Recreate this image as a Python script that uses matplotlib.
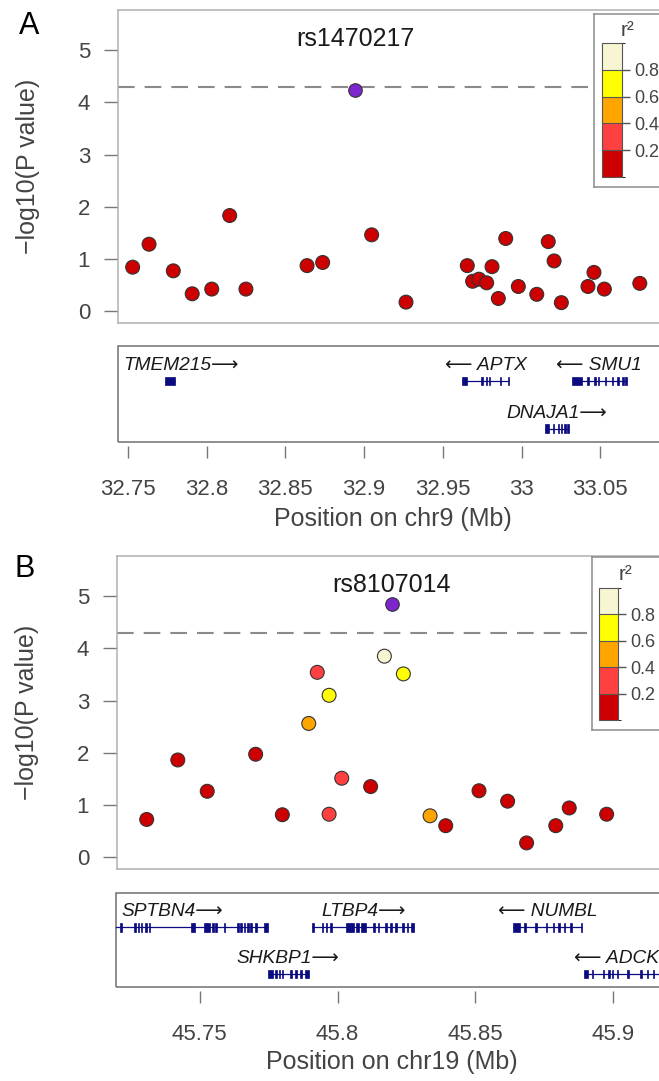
import matplotlib
matplotlib.use("Agg")
import matplotlib.pyplot as plt
from matplotlib.colors import ListedColormap, BoundaryNorm
from matplotlib.cm import ScalarMappable
from matplotlib.patches import Rectangle

plt.rcParams["font.family"] = ["Liberation Sans", "DejaVu Sans"]

W, H = 659, 1081

# ── r2 colour scale ──────────────────────────────────────────────────────────
R2_BOUNDS = [0, 0.2, 0.4, 0.6, 0.8, 1.0]
R2_COLORS = ["#CC0000", "#FF4040", "#FFA500", "#FFFF00", "#F8F6D2"]
R2_TICKS = [0.2, 0.4, 0.6, 0.8]
LEAD_COLOR = "#7D26CD"
THRESHOLD = 4.3

# ── Panel A: chr9 ────────────────────────────────────────────────────────────
A_snp = "rs1470217"
A_lead_pos, A_lead_logp = 32.8942, 4.23
A_pos = [32.7531, 32.7635, 32.7789, 32.7909, 32.8033, 32.8147, 32.8250, 32.8638,
         32.8737, 32.9048, 32.9266, 32.9655, 32.9689, 32.9729, 32.9778, 32.9812,
         32.9852, 32.9899, 32.9979, 33.0096, 33.0169, 33.0206, 33.0252, 33.0421,
         33.0459, 33.0525, 33.0750]
A_logp = [0.84, 1.28, 0.77, 0.33, 0.42, 1.83, 0.42, 0.87, 0.93, 1.46, 0.17, 0.87,
          0.57, 0.61, 0.54, 0.85, 0.24, 1.39, 0.47, 0.32, 1.33, 0.96, 0.16, 0.47,
          0.74, 0.42, 0.53]
A_r2 = [0.1] * 27
A_xticks = [32.75, 32.8, 32.85, 32.9, 32.95, 33.0, 33.05]
A_xlim = (32.7438, 33.0929)
A_xlabel = "Position on chr9 (Mb)"

# (name, strand, row, start, end, exons)
A_genes = [
    ("TMEM215", "+", 0, 32.7737, 32.7802, [(32.7737, 32.7802)]),
    ("APTX", "-", 0, 32.9623, 32.9922,
     [(32.9623, 32.9651), (32.9742, 32.9755), (32.9771, 32.9780), (32.9790, 32.9799),
      (32.9860, 32.9868), (32.9912, 32.9922)]),
    ("SMU1", "-", 0, 33.0317, 33.0667,
     [(33.0317, 33.0385), (33.0415, 33.0425), (33.0459, 33.0469), (33.0482, 33.0491),
      (33.0526, 33.0536), (33.0571, 33.0580), (33.0605, 33.0615), (33.0640, 33.0650),
      (33.0659, 33.0667)]),
    ("DNAJA1", "+", 1, 33.0148, 33.0301,
     [(33.0148, 33.0174), (33.0196, 33.0206), (33.0228, 33.0237), (33.0250, 33.0259),
      (33.0272, 33.0282), (33.0291, 33.0301)]),
]

# ── Panel B: chr19 ───────────────────────────────────────────────────────────
B_snp = "rs8107014"
B_lead_pos, B_lead_logp = 45.8195, 4.85
B_pos = [45.7304, 45.7417, 45.7524, 45.7700, 45.7797, 45.7893, 45.7924, 45.7967,
         45.7967, 45.8013, 45.8118, 45.8168, 45.8237, 45.8334, 45.8391, 45.8512,
         45.8616, 45.8685, 45.8791, 45.8840, 45.8976]
B_logp = [0.72, 1.86, 1.26, 1.97, 0.81, 2.56, 3.54, 3.10, 0.82, 1.51, 1.35, 3.85,
          3.51, 0.79, 0.60, 1.27, 1.07, 0.27, 0.60, 0.94, 0.82]
B_r2 = [0.1, 0.1, 0.1, 0.1, 0.1, 0.5, 0.3, 0.7, 0.3, 0.3, 0.1, 0.9, 0.7, 0.5, 0.1,
        0.1, 0.1, 0.1, 0.1, 0.1, 0.1]
B_xticks = [45.75, 45.8, 45.85, 45.9]
B_xlim = (45.7196, 45.9199)
B_xlabel = "Position on chr19 (Mb)"

B_genes = [
    ("SPTBN4", "+", 0, 45.7035, 45.7746,
     [(45.7210, 45.7216), (45.7263, 45.7268), (45.7276, 45.7281), (45.7287, 45.7292),
      (45.7303, 45.7308), (45.7314, 45.7319), (45.7467, 45.7474), (45.7477, 45.7483),
      (45.7517, 45.7527), (45.7528, 45.7536), (45.7545, 45.7550), (45.7556, 45.7563),
      (45.7587, 45.7592), (45.7634, 45.7641), (45.7647, 45.7654), (45.7659, 45.7665),
      (45.7672, 45.7679), (45.7683, 45.7688), (45.7699, 45.7708), (45.7734, 45.7746)]),
    ("LTBP4", "+", 0, 45.7909, 45.8279,
     [(45.7909, 45.7914), (45.7943, 45.7948), (45.7957, 45.7963), (45.7974, 45.7979),
      (45.8032, 45.8047), (45.8048, 45.8061), (45.8067, 45.8079), (45.8085, 45.8103),
      (45.8128, 45.8134), (45.8147, 45.8152), (45.8172, 45.8181), (45.8192, 45.8197),
      (45.8210, 45.8216), (45.8232, 45.8241), (45.8252, 45.8257), (45.8268, 45.8279)]),
    ("NUMBL", "-", 0, 45.8635, 45.8887,
     [(45.8635, 45.8661), (45.8677, 45.8683), (45.8717, 45.8723), (45.8756, 45.8761),
      (45.8781, 45.8787), (45.8801, 45.8807), (45.8821, 45.8827), (45.8845, 45.8850),
      (45.8883, 45.8887)]),
    ("SHKBP1", "+", 1, 45.7746, 45.7895,
     [(45.7746, 45.7764), (45.7774, 45.7779), (45.7787, 45.7792), (45.7797, 45.7803),
      (45.7828, 45.7834), (45.7847, 45.7852), (45.7865, 45.7870), (45.7881, 45.7895)]),
    ("ADCK4", "-", 1, 45.8894, 45.9171,
     [(45.8894, 45.8908), (45.8923, 45.8928), (45.8963, 45.8968), (45.8981, 45.8987),
      (45.8996, 45.9001), (45.9014, 45.9019), (45.9052, 45.9057), (45.9097, 45.9103),
      (45.9123, 45.9128), (45.9143, 45.9148)]),
]

TEXT_GRAY = "#444444"
GENE_BLUE = "#0B0B80"

cmap = ListedColormap(R2_COLORS)
norm = BoundaryNorm(R2_BOUNDS, cmap.N)


def px_axes(fig, left, top, right, bottom, **kw):
    return fig.add_axes([left / W, 1 - bottom / H, (right - left) / W, (bottom - top) / H], **kw)


def scatter_panel(fig, box, pos, logp, r2, lead_pos, lead_logp, snp, xlim):
    ax = px_axes(fig, *box)
    ax.axhline(THRESHOLD, color="#8a8a8a", lw=1.5, ls=(0, (8, 4.8)), zorder=1)
    ax.scatter(pos, logp, c=r2, cmap=cmap, norm=norm, s=100,
               edgecolors="#333333", linewidths=0.8, zorder=3)
    ax.scatter([lead_pos], [lead_logp], color=LEAD_COLOR, s=95,
               edgecolors="#333333", linewidths=0.8, zorder=4)
    ax.text(lead_pos, 5.22, snp, ha="center", va="center", fontsize=18, color="#1a1a1a")
    ax.set_xlim(*xlim)
    ax.set_ylim(-0.23, 5.77)
    ax.set_xticks([])
    ax.set_yticks(range(6))
    ax.tick_params(axis="y", length=10, width=1, color="#777777", pad=10,
                   labelsize=16, labelcolor=TEXT_GRAY)
    for sp in ax.spines.values():
        sp.set_color("#b0b0b0")
        sp.set_linewidth(1.1)
    ax.text(-0.163, 0.5, "\u2212log10(P value)", transform=ax.transAxes, rotation=90,
            ha="center", va="center", fontsize=18, color=TEXT_GRAY)
    return ax


def gene_panel(fig, box, genes, xlim, xticks, xlabel):
    ax = px_axes(fig, *box)
    ax.set_xlim(*xlim)
    ax.set_ylim(0, 1)
    gene_y = [0.635, 0.14]
    text_y = [0.80, 0.30]
    h = 0.09
    labels = []
    for name, strand, row, start, end, exons in genes:
        y = gene_y[row]
        ax.plot([start, end], [y, y], color=GENE_BLUE, lw=0.9, solid_capstyle="butt")
        for s, e in exons:
            ax.add_patch(Rectangle((s, y - h / 2), e - s, h, facecolor=GENE_BLUE,
                                   edgecolor=GENE_BLUE, lw=0.5))
        label = f"{name}\u27f6" if strand == "+" else f"\u27f5 {name}"
        t = ax.text((start + end) / 2, text_y[row], label, ha="center", va="center",
                    fontsize=13.8, style="italic", color="#1a1a1a")
        labels.append(t)
    ax.set_yticks([])
    ax.set_xticks(xticks)
    ax.set_xticklabels([f"{v:g}" for v in xticks])
    ax.tick_params(axis="x", length=8.6, width=1, color="#777777", pad=15,
                   labelsize=16, labelcolor=TEXT_GRAY)
    for sp in ax.spines.values():
        sp.set_visible(False)
    ax.spines["bottom"].set_position(("outward", 3))
    ax.add_patch(Rectangle((0, 0), 1, 1, transform=ax.transAxes, fill=False,
                           edgecolor="#707070", lw=1.1, clip_on=False))
    ax.text(0.5, -0.80, xlabel, transform=ax.transAxes, ha="center", va="center",
            fontsize=18, color=TEXT_GRAY)

    # keep labels inside the left edge of the panel, like the original
    renderer = fig.canvas.get_renderer()
    left = ax.get_window_extent(renderer).x0 + 5
    for t in labels:
        bb = t.get_window_extent(renderer)
        if bb.x0 < left:
            x, y = t.get_position()
            dx, dy = ax.transData.transform((x, y))
            t.set_x(ax.transData.inverted().transform((dx + left - bb.x0, dy))[0])
    return ax


def r2_legend(fig, box, cbox, r2_xy):
    lax = px_axes(fig, *box, zorder=5)
    lax.set_xticks([])
    lax.set_yticks([])
    for sp in lax.spines.values():
        sp.set_color("#8c8c8c")
        sp.set_linewidth(1.1)
    cax = px_axes(fig, *cbox, zorder=6)
    cb = fig.colorbar(ScalarMappable(norm=norm, cmap=cmap), cax=cax,
                      ticks=R2_TICKS, drawedges=True)
    cb.outline.set_edgecolor("#555555")
    cb.outline.set_linewidth(0.8)
    cb.dividers.set_color("#555555")
    cb.dividers.set_linewidth(0.8)
    cb.ax.set_yticklabels([f"{t:g}" for t in R2_TICKS])
    cb.ax.tick_params(length=6, width=1, color="#555555", pad=3,
                      labelsize=13, labelcolor=TEXT_GRAY)
    fig.text(r2_xy[0] / W, 1 - r2_xy[1] / H, "r\u00b2", ha="center", va="center",
             fontsize=15, color=TEXT_GRAY, zorder=7)


def main():
    fig = plt.figure(figsize=(W / 100, H / 100), dpi=100)

    # Panel A
    scatter_panel(fig, (118, 10, 668, 323), A_pos, A_logp, A_r2,
                  A_lead_pos, A_lead_logp, A_snp, A_xlim)
    gene_panel(fig, (118, 346, 668, 442), A_genes, A_xlim, A_xticks, A_xlabel)
    r2_legend(fig, (594, 14, 700, 187), (602, 43, 622, 177), (628, 31))
    fig.text(29 / W, 1 - 26 / H, "A", ha="center", va="center", fontsize=22)

    # Panel B
    scatter_panel(fig, (117, 556, 668, 869), B_pos, B_logp, B_r2,
                  B_lead_pos, B_lead_logp, B_snp, B_xlim)
    gene_panel(fig, (116, 893, 668, 987), B_genes, B_xlim, B_xticks, B_xlabel)
    r2_legend(fig, (592, 557, 700, 730), (599, 588, 618, 720), (625, 574))
    fig.text(25 / W, 1 - 569 / H, "B", ha="center", va="center", fontsize=22)

    fig.savefig("out.png", dpi=100)
    plt.close(fig)


if __name__ == "__main__":
    main()
